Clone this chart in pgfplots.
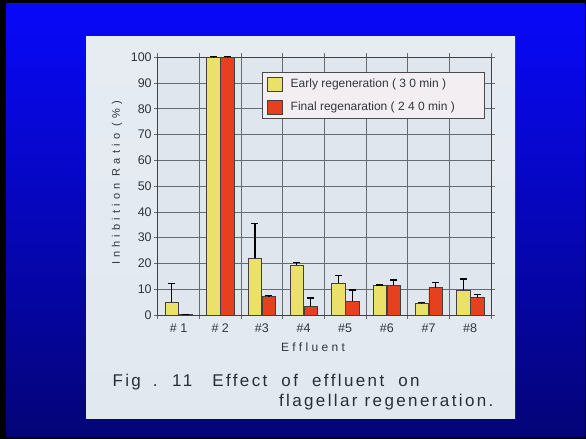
\documentclass[border=0pt]{standalone}
\usepackage{fontspec}
\setmainfont{Liberation Sans}
\newfontfamily\spaced[LetterSpace=38]{Liberation Sans}
\newfontfamily\effl[LetterSpace=28]{Liberation Sans}
\newfontfamily\capfont[LetterSpace=14]{Liberation Sans}
\usepackage{pgfplots}
\pgfplotsset{compat=1.18}

\definecolor{early}{HTML}{EAE06A}
\definecolor{final}{HTML}{E6401E}
\definecolor{plotbg}{HTML}{DFE6EE}
\definecolor{txt}{HTML}{30363C}
\definecolor{gridc}{HTML}{676B70}

\begin{document}
\begin{tikzpicture}[x=1pt,y=1pt]
% slide background
\fill[black] (0,0) rectangle (586,439);
\shade[top color={rgb,255:red,8;green,8;blue,250}, bottom color={rgb,255:red,4;green,4;blue,120}]
  (6,3) rectangle (585,435);
% light panel
\shade[top color={rgb,255:red,230;green,236;blue,242},
       middle color={rgb,255:red,160;green,206;blue,232},
       bottom color={rgb,255:red,226;green,232;blue,240}]
  (86,21) rectangle (515,402);

\begin{axis}[
    at={(157.7pt,124pt)}, anchor=south west,
    width=333.3pt, height=257.7pt, scale only axis,
    xmin=0.5, xmax=8.5, ymin=0, ymax=100,
    ybar=0.6pt, bar width=13.4pt,
    axis background/.style={fill=plotbg},
    xtick={0.5,1.5,...,8.5}, xticklabels={},
    extra x ticks={1,2,3,4,5,6,7,8},
    extra x tick labels={\# 1,\# 2,\#3,\#4,\#5,\#6,\#7,\#8},
    extra x tick style={grid=none, major tick length=0pt},
    ytick={0,10,...,100},
    tick align=outside, major tick length=4pt,
    tick style={gridc, line width=0.8pt},
    grid=major, grid style={gridc, line width=0.75pt},
    axis line style={gridc!60!black, line width=0.9pt},
    ticklabel style={font=\fontsize{12.5}{14}\selectfont, text=txt},
    /pgf/number format/assume math mode=true,
    xticklabel style={yshift=-5pt},
    yticklabel style={xshift=1.5pt},
    clip=false,
    legend style={at={(0.979,0.943)}, anchor=north east,
        draw=gridc!70!black, fill={rgb,255:red,242;green,238;blue,242},
        font=\fontsize{12}{14}\selectfont, text=txt,
        row sep=8.5pt, inner xsep=5pt, inner ysep=4.5pt},
    legend cell align=left,
    legend image code/.code={\draw[#1] (0pt,-7pt) rectangle (15pt,7pt);},
    error bars/y dir=plus, error bars/y explicit,
    error bars/error bar style={black, line width=1.3pt},
    error bars/error mark options={rotate=90, mark size=3.5pt, line width=1.3pt, black},
]
\addplot[fill=early, draw=black!75, line width=0.5pt] coordinates {
  (1,5.0) +- (0,7.2)
  (2,100) +- (0,0.3)
  (3,22.2) +- (0,13.2)
  (4,19.3) +- (0,1.1)
  (5,12.4) +- (0,3.0)
  (6,11.4) +- (0,0.2)
  (7,4.5) +- (0,0.3)
  (8,9.7) +- (0,4.3)
};
\addlegendentry{\null\hspace{6pt}Early regeneration ( 3 0 min )}
\addplot[fill=final, draw=black!75, line width=0.5pt] coordinates {
  (1,0.3) +- (0,0)
  (2,100) +- (0,0.3)
  (3,7.2) +- (0,0.3)
  (4,3.4) +- (0,3.2)
  (5,5.4) +- (0,4.3)
  (6,11.5) +- (0,2.1)
  (7,10.6) +- (0,2.1)
  (8,6.7) +- (0,1.3)
};
\addlegendentry{\null\hspace{6pt}Final regenaration ( 2 4 0 min )\hspace{22pt}\null}
\end{axis}

% axis titles and caption
\node[rotate=90, text=txt, font=\spaced\fontsize{11}{13}\selectfont] at (117,256) {Inhibition Ratio (\%)};
\node[text=txt, font=\effl\fontsize{12}{14}\selectfont] at (313,92) {Effluent};
\node[anchor=west, text=txt!85!black, font=\capfont\fontsize{17}{20}\selectfont] at (109,57.3)
  {Fig\hspace{5pt} .\hspace{5pt} 11\hspace{13pt} Effect\hspace{7pt} of\hspace{7pt} effluent\hspace{7pt} on};
\node[anchor=east, text=txt!85!black, font=\capfont\fontsize{17}{20}\selectfont] at (497,37.3) {flagellar regeneration.};
\end{tikzpicture}
\end{document}
